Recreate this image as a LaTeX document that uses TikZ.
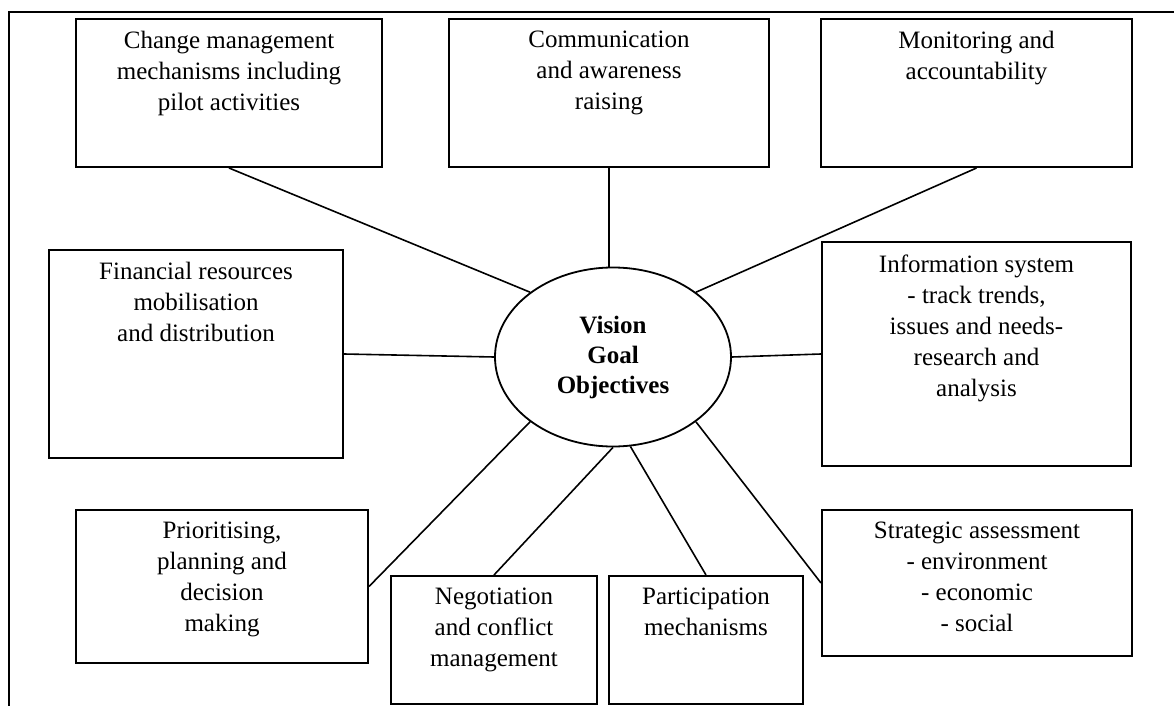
\documentclass[tikz,border=0pt]{standalone}
\usepackage{fontspec}
\setmainfont{Liberation Serif}
\usetikzlibrary{calc,shapes.geometric}
\begin{document}
\begin{tikzpicture}[x=0.5pt,y=-0.5pt,
  box/.style={draw, line width=1pt, rectangle, inner sep=0pt},
  lbl/.style={anchor=north, align=center, inner sep=0pt,
    font=\fontsize{12.5}{15.5}\selectfont, execute at begin node=\strut},
  link/.style={line width=0.8pt},
  frame/.style={line width=0.8pt},
  hub/.style={draw, ellipse, line width=0.9pt, inner sep=0pt,
    minimum width=118pt, minimum height=89.5pt, align=center,
    font=\fontsize{12.5}{15}\selectfont\bfseries}]
\useasboundingbox (0,0) rectangle (1174,706);
% outer frame
\draw[frame] (9,706) -- (9,12) -- (1174,12);
% boxes
\node[box, minimum width=153pt, minimum height=74pt] (b1) at (229,93) {};
\node[box, minimum width=160pt, minimum height=74pt] (b2) at (609,93) {};
\node[box, minimum width=155.5pt, minimum height=74pt] (b3) at (976.5,93) {};
\node[box, minimum width=147pt, minimum height=104pt] (bF) at (196,354) {};
\node[box, minimum width=154.5pt, minimum height=112pt] (bI) at (976.5,354) {};
\node[box, minimum width=146pt, minimum height=76.5pt] (bP) at (222,586.5) {};
\node[box, minimum width=103pt, minimum height=64pt] (bN) at (494,640) {};
\node[box, minimum width=97pt, minimum height=64pt] (bPa) at (706,640) {};
\node[box, minimum width=155pt, minimum height=73pt] (bS) at (977,583) {};
% hub
\node[hub] (hub) at (613,357) {Vision\\Goal\\Objectives};
% labels
\node[lbl] (t1) at ([yshift=-6.5pt]b1.north) {Change management\\mechanisms including\\pilot activities};
\node[lbl] (t2) at ([yshift=-6.5pt]b2.north) {Communication\\and awareness\\raising};
\node[lbl] (t3) at ([yshift=-6.5pt]b3.north) {Monitoring and\\accountability};
\node[lbl] (tF) at ([yshift=-6.5pt]bF.north) {Financial resources\\mobilisation\\and distribution};
\node[lbl] (tI) at ([yshift=-6.5pt]bI.north) {Information system\\- track trends,\\issues and needs-\\research and\\analysis};
\node[lbl] (tP) at ([yshift=-6.5pt]bP.north) {Prioritising,\\planning and\\decision\\making};
\node[lbl] (tN) at ([yshift=-6.5pt]bN.north) {Negotiation\\and conflict\\management};
\node[lbl] (tPa) at ([yshift=-6.5pt]bPa.north) {Participation\\mechanisms};
\node[lbl] (tS) at ([yshift=-6.5pt]bS.north) {Strategic assessment\\- environment\\- economic\\- social};
% connectors
\draw[link] (b1.south) -- (hub.142);
\draw[link] (b2.south) -- (b2.south |- hub.north);
\draw[link] (b3.south) -- (hub.38);
\draw[link] (bF.east) -- (hub.west);
\draw[link] (hub.east) -- (bI.west);
\draw[link] (hub.218) -- (bP.east);
\draw[link] (hub.south) -- (bN.north);
\draw[link] (hub.281) -- (bPa.north);
\draw[link] (hub.322) -- (bS.west);
\end{tikzpicture}
\end{document}
